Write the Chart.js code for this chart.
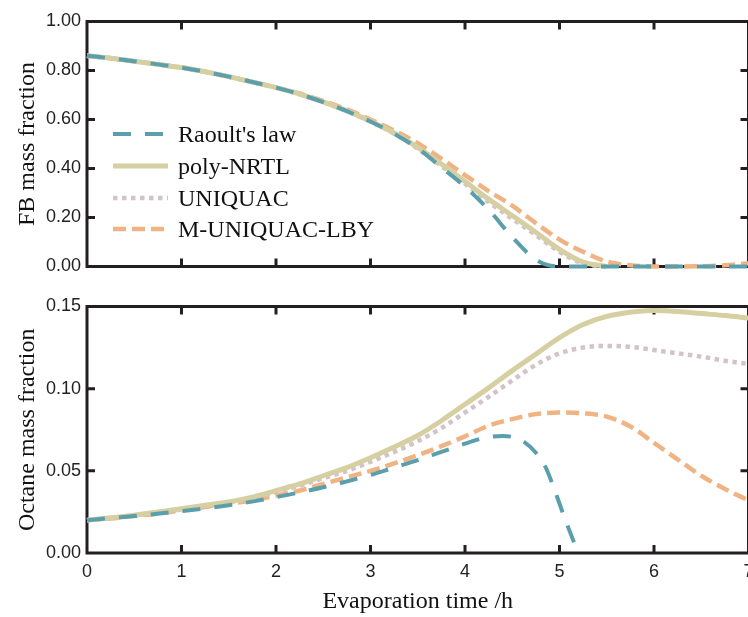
<!DOCTYPE html>
<html>
<head>
<meta charset="utf-8">
<script src="https://cdn.jsdelivr.net/npm/chart.js"></script>
<style>
  html, body { margin: 0; padding: 0; background: #fff; overflow: hidden; width: 748px; height: 617px; }
  .panel { position: absolute; left: 0; width: 752px; }
</style>
</head>
<body>
<div class="panel" style="top:0"><canvas id="fbChart" width="752" height="290" style="width:752px;height:290px"></canvas></div>
<div class="panel" style="top:290px"><canvas id="octChart" width="752" height="327" style="width:752px;height:327px"></canvas></div>
<script>
// time axis (h), shared by most series
const hours = [0, 0.25, 0.5, 0.75, 1, 1.25, 1.5, 1.75, 2, 2.25, 2.5, 2.75, 3, 3.25, 3.5,
  3.75, 4, 4.25, 4.5, 4.75, 5, 5.25, 5.5, 5.75, 6, 6.25, 6.5, 6.75, 7];

const seriesNames = ["Raoult's law", 'poly-NRTL', 'UNIQUAC', 'M-UNIQUAC-LBY'];

// FB mass fraction (top panel)
const fbRaoult = [0.86, 0.85, 0.838, 0.825, 0.812, 0.795, 0.775, 0.753, 0.73, 0.703, 0.671, 0.634, 0.592, 0.542, 0.482,
  0.405, 0.326, 0.232, 0.12, 0.028, 0, 0, 0, 0, 0, 0, 0, 0, 0];
const fbPoly = [0.86, 0.85, 0.838, 0.825, 0.812, 0.795, 0.775, 0.753, 0.73, 0.704, 0.672, 0.635, 0.593, 0.545, 0.486,
  0.418, 0.347, 0.275, 0.208, 0.14, 0.07, 0.018, 0, null, null, null, null, null, null];
const fbUniquac = [0.86, 0.85, 0.838, 0.825, 0.812, 0.795, 0.775, 0.753, 0.73, 0.703, 0.671, 0.634, 0.591, 0.542, 0.481,
  0.41, 0.338, 0.263, 0.195, 0.128, 0.06, 0.012, 0, null, null, null, null, null, null];
const fbMUniquac = [0.86, 0.85, 0.838, 0.825, 0.812, 0.795, 0.775, 0.753, 0.731, 0.706, 0.676, 0.641, 0.60, 0.555, 0.503,
  0.44, 0.373, 0.308, 0.248, 0.177, 0.11, 0.06, 0.02, 0.005, 0, 0, 0.001, 0.005, 0.013];

// Octane mass fraction (bottom panel)
const octPoly = [0.020, 0.0215, 0.023, 0.025, 0.027, 0.029, 0.031, 0.034, 0.038, 0.042, 0.047, 0.052, 0.058, 0.0645, 0.0715,
  0.0805, 0.0905, 0.1005, 0.111, 0.121, 0.131, 0.139, 0.144, 0.1465, 0.1475, 0.147, 0.1457, 0.1445, 0.143];
const octUniquac = [0.020, 0.0213, 0.0228, 0.0245, 0.0265, 0.0285, 0.0305, 0.0335, 0.037, 0.041, 0.0455, 0.050, 0.0555, 0.0615, 0.068,
  0.076, 0.0855, 0.095, 0.105, 0.1145, 0.1215, 0.125, 0.126, 0.1255, 0.1235, 0.1215, 0.1195, 0.117, 0.115];
const octMUniquac = [0.020, 0.021, 0.0225, 0.024, 0.026, 0.028, 0.030, 0.032, 0.035, 0.038, 0.042, 0.046, 0.050, 0.0545, 0.0595,
  0.065, 0.071, 0.0775, 0.0815, 0.0845, 0.0855, 0.085, 0.083, 0.077, 0.067, 0.057, 0.047, 0.039, 0.032];
// Raoult's law curve stops just past 5 h
const octRaoultHours = [0, 0.5, 1, 1.5, 2, 2.5, 3, 3.25, 3.5, 3.75, 4, 4.2, 4.4, 4.6, 4.75, 4.85, 4.95, 5.05, 5.17];
const octRaoult = [0.020, 0.0225, 0.0255, 0.029, 0.034, 0.040, 0.0475, 0.052, 0.0565, 0.0615, 0.0665, 0.070, 0.0712,
  0.0685, 0.061, 0.0525, 0.038, 0.022, 0.004];

const fbTicks = [0, 0.2, 0.4, 0.6, 0.8, 1.0];
const octTicks = [0, 0.05, 0.10, 0.15];

// line styles
const styles = [
  { color: '#5b9fad', width: 4, dash: [18, 14] },
  { color: '#d5cfa1', width: 5, dash: [] },
  { color: '#d3c3c7', width: 4.5, dash: [4.5, 4.5] },
  { color: '#f0b383', width: 4.5, dash: [13, 6] }
];

const serif = "'Liberation Serif', 'Times New Roman', serif";
const sans = "'Liberation Sans', Arial, sans-serif";

function pts(xs, ys) {
  return xs.map((x, i) => ({ x: x, y: ys[i] }));
}

function makeDatasets(list) {
  return list.map((d, i) => ({
    label: seriesNames[i],
    data: pts(d[0], d[1]),
    borderColor: styles[i].color,
    borderWidth: styles[i].width,
    borderDash: styles[i].dash,
    borderCapStyle: 'butt',
    pointRadius: 0,
    fill: false,
    cubicInterpolationMode: 'monotone',
    spanGaps: false,
    clip: false
  }));
}

// box frame with inward ticks on all four sides
const framePlugin = {
  id: 'frame',
  beforeDatasetsDraw(chart) {
    const { ctx, chartArea: a, scales } = chart;
    ctx.save();
    ctx.strokeStyle = '#231f20';
    ctx.lineWidth = 3;
    ctx.strokeRect(a.left, a.top, a.right - a.left, a.bottom - a.top);
    const tl = 8;
    ctx.beginPath();
    scales.x.ticks.forEach(t => {
      if (t.value <= scales.x.min || t.value >= scales.x.max) return;
      const px = scales.x.getPixelForValue(t.value);
      ctx.moveTo(px, a.bottom); ctx.lineTo(px, a.bottom - tl);
      ctx.moveTo(px, a.top); ctx.lineTo(px, a.top + tl);
    });
    scales.y.ticks.forEach(t => {
      if (t.value <= scales.y.min + 1e-9 || t.value >= scales.y.max - 1e-9) return;
      const py = scales.y.getPixelForValue(t.value);
      ctx.moveTo(a.left, py); ctx.lineTo(a.left + tl, py);
      ctx.moveTo(a.right, py); ctx.lineTo(a.right - tl, py);
    });
    ctx.stroke();
    ctx.restore();
  }
};

// legend inside the top panel
const legendPlugin = {
  id: 'lineLegend',
  afterDatasetsDraw(chart) {
    const ctx = chart.ctx;
    const x0 = 113, x1 = 168, tx = 178;
    const rows = [134, 166, 198, 229];
    ctx.save();
    chart.data.datasets.forEach((ds, i) => {
      const y = rows[i];
      ctx.beginPath();
      ctx.strokeStyle = ds.borderColor;
      ctx.lineWidth = ds.borderWidth;
      ctx.setLineDash(ds.borderDash);
      ctx.moveTo(x0, y); ctx.lineTo(x1, y);
      ctx.stroke();
      ctx.setLineDash([]);
      ctx.fillStyle = '#111';
      ctx.font = '24px ' + serif;
      ctx.textBaseline = 'middle';
      ctx.fillText(ds.label, tx, y + 2);
    });
    ctx.restore();
  }
};

function yAxis(title, ticks) {
  return {
    type: 'linear',
    min: ticks[0],
    max: ticks[ticks.length - 1],
    afterBuildTicks: s => { s.ticks = ticks.map(v => ({ value: v })); },
    afterFit: s => { s.width = 87; s.paddingTop = 0; s.paddingBottom = 0; },
    grid: { display: false, drawTicks: false },
    border: { display: false },
    ticks: {
      padding: 6,
      color: '#222',
      font: { family: sans, size: 18 },
      callback: v => Number(v).toFixed(2)
    },
    title: {
      display: true,
      text: title,
      color: '#111',
      font: { family: serif, size: 24 },
      padding: { top: 13, bottom: 0 }
    }
  };
}

function xAxis(showLabels, height) {
  return {
    type: 'linear',
    min: 0,
    max: 7,
    afterFit: s => { s.height = height; s.paddingLeft = 0; s.paddingRight = 0; },
    grid: { display: false, drawTicks: false },
    border: { display: false },
    ticks: {
      display: showLabels,
      stepSize: 1,
      padding: 8,
      color: '#222',
      font: { family: sans, size: 18 },
      callback: v => v
    },
    title: {
      display: showLabels,
      text: 'Evaporation time /h',
      color: '#111',
      font: { family: serif, size: 24 },
      padding: { top: 0, bottom: 0.6 }
    }
  };
}

new Chart(document.getElementById('fbChart'), {
  type: 'line',
  data: {
    datasets: makeDatasets([
      [hours, fbRaoult], [hours, fbPoly], [hours, fbUniquac], [hours, fbMUniquac]
    ])
  },
  options: {
    responsive: false,
    animation: false,
    layout: { padding: { top: 21.5, right: 3.5, left: 0, bottom: 0 } },
    plugins: { legend: { display: false }, tooltip: { enabled: false } },
    scales: { x: xAxis(false, 23.5), y: yAxis('FB mass fraction', fbTicks) }
  },
  plugins: [framePlugin, legendPlugin]
});

new Chart(document.getElementById('octChart'), {
  type: 'line',
  data: {
    datasets: makeDatasets([
      [octRaoultHours, octRaoult], [hours, octPoly], [hours, octUniquac], [hours, octMUniquac]
    ])
  },
  options: {
    responsive: false,
    animation: false,
    layout: { padding: { top: 16.5, right: 3.5, left: 0, bottom: 0 } },
    plugins: { legend: { display: false }, tooltip: { enabled: false } },
    scales: { x: xAxis(true, 64), y: yAxis('Octane mass fraction', octTicks) }
  },
  plugins: [framePlugin]
});
</script>
</body>
</html>
